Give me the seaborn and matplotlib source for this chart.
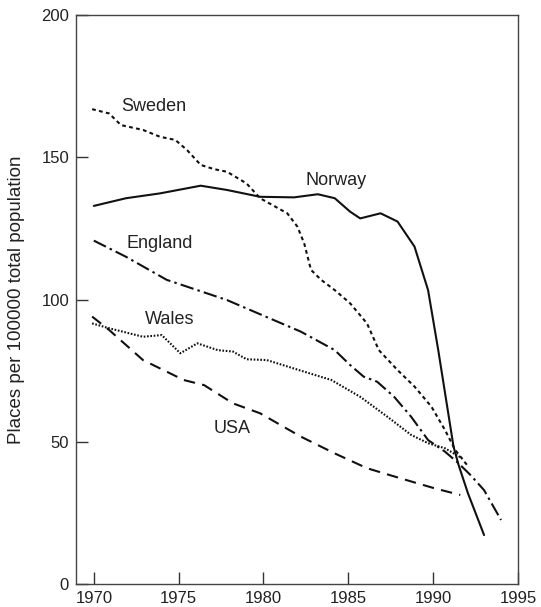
import matplotlib
matplotlib.use("Agg")
import matplotlib.pyplot as plt
import seaborn as sns
import pandas as pd

# ---- data ----
norway_years = [1970.0, 1971.9, 1973.9, 1976.3, 1977.85, 1979.8, 1981.8, 1983.2, 1984.2,
                1985.1, 1985.7, 1986.9, 1987.9, 1988.9, 1989.7, 1990.3, 1991.2, 1991.5,
                1992.05, 1993.0]
norway_vals = [132.9, 135.6, 137.3, 140.0, 138.5, 136.1, 135.9, 137.0, 135.6,
               130.9, 128.5, 130.3, 127.4, 118.6, 103.3, 82.2, 48.3, 41.8,
               31.9, 17.2]

sweden_years = [1969.9, 1970.9, 1971.6, 1972.9, 1973.9, 1974.8, 1975.5, 1976.3, 1977.1,
                1977.85, 1979.0, 1979.8, 1981.4, 1982.0, 1982.4, 1982.8, 1983.4, 1984.2,
                1985.1, 1986.1, 1986.8, 1987.9, 1988.9, 1989.9, 1990.7, 1991.3, 1992.0]
sweden_vals = [166.9, 165.4, 161.3, 159.6, 157.2, 156.1, 152.5, 147.3, 145.8,
               144.9, 140.8, 135.6, 130.3, 125.6, 119.7, 110.4, 106.9, 103.3,
               98.7, 91.6, 82.2, 75.2, 69.4, 62.3, 54.1, 47.1, 41.8]

england_years = [1970.0, 1971.9, 1974.3, 1977.85, 1982.2, 1984.2, 1985.1, 1985.9, 1986.7,
                 1987.7, 1988.7, 1989.7, 1990.7, 1991.5, 1992.2, 1993.0, 1994.0]
england_vals = [120.7, 115.0, 106.9, 99.8, 88.7, 82.2, 77.0, 72.9, 71.1,
                65.8, 58.8, 50.6, 46.5, 42.4, 38.3, 33.0, 22.5]

wales_years = [1969.9, 1970.9, 1972.9, 1974.0, 1974.5, 1975.1, 1976.1, 1977.3, 1978.2,
               1979.0, 1980.2, 1982.2, 1984.0, 1985.7, 1987.3, 1988.7, 1989.7, 1990.7,
               1991.7]
wales_vals = [91.6, 89.9, 86.9, 87.5, 84.6, 81.1, 84.6, 82.2, 81.7,
              79.0, 78.7, 75.0, 71.7, 65.8, 58.8, 52.4, 49.5, 47.7,
              44.2]

usa_years = [1969.9, 1970.9, 1972.9, 1975.3, 1976.5, 1978.2, 1979.8, 1982.2, 1984.2,
             1986.1, 1988.1, 1990.1, 1991.6]
usa_vals = [94.0, 89.3, 78.7, 71.7, 69.9, 63.5, 60.0, 51.8, 45.9,
            40.7, 37.1, 33.6, 31.3]

countries = ["Sweden", "Norway", "England", "Wales", "USA"]
label_x = [1971.6, 1982.5, 1971.9, 1973.0, 1977.05]
label_y = [167.7, 141.8, 119.8, 93.0, 54.7]

x_ticks = [1970, 1975, 1980, 1985, 1990, 1995]
y_ticks = [0, 50, 100, 150, 200]
y_label = "Places per 100000 total population"

# ---- build long table ----
series = {
    "Sweden": (sweden_years, sweden_vals),
    "Norway": (norway_years, norway_vals),
    "England": (england_years, england_vals),
    "Wales": (wales_years, wales_vals),
    "USA": (usa_years, usa_vals),
}
rows = []
for c in countries:
    yrs, vals = series[c]
    for x, v in zip(yrs, vals):
        rows.append({"year": x, "value": v, "country": c})
df = pd.DataFrame(rows)

sns.set_style("ticks")
plt.rcParams["font.family"] = ["Liberation Sans", "DejaVu Sans"]
plt.rcParams["lines.solid_joinstyle"] = "round"
plt.rcParams["lines.dash_joinstyle"] = "round"

fig = plt.figure(figsize=(5.41, 6.07), dpi=100)
ax = fig.add_axes([76 / 541, 1 - 584 / 607, (518 - 76) / 541, (584 - 15) / 607])

palette = {c: "#111111" for c in countries}
dashes = {
    "Sweden": (1.8, 1.6),
    "Norway": "",
    "England": (6.5, 2.0, 1.2, 2.0),
    "Wales": (0.8, 0.8),
    "USA": (5.5, 3.5),
}
sns.lineplot(data=df, x="year", y="value", hue="country", style="country",
             palette=palette, dashes=dashes, estimator=None, sort=True,
             linewidth=1.5, legend=False, ax=ax)

ax.set_xlim(1968.95, 1995)
ax.set_ylim(0, 200)
ax.set_xticks(x_ticks)
ax.set_yticks(y_ticks)
ax.set_xlabel("")
ax.set_ylabel(y_label, fontsize=13.5, color="#222222", labelpad=12)
ax.tick_params(direction="in", length=8.5, width=1.0, labelsize=12,
               colors="#333333", labelcolor="#222222", pad=5)
for s in ax.spines.values():
    s.set_visible(True)
    s.set_linewidth(1.0)
    s.set_color("#444444")

for c, lx, ly in zip(countries, label_x, label_y):
    ax.text(lx, ly, c, fontsize=13, color="#222222", ha="left", va="center")

fig.savefig("out.png", dpi=100)
